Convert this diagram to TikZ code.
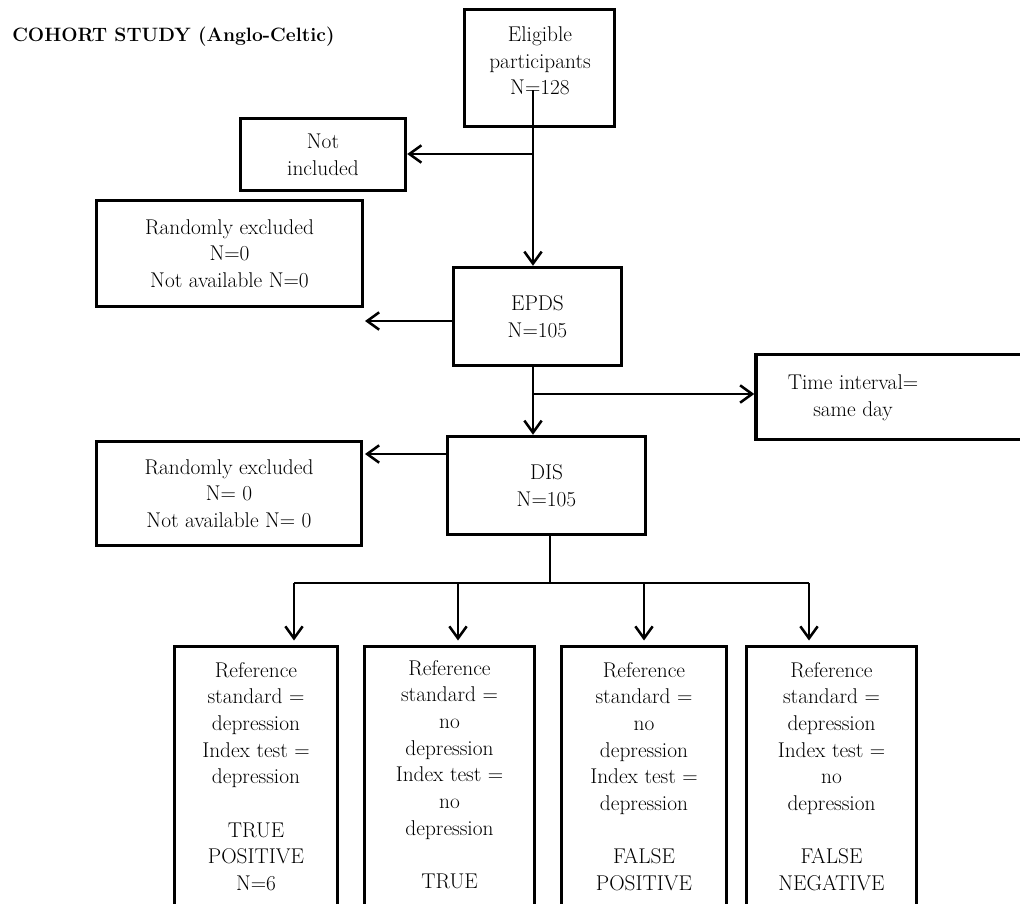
\documentclass[tikz,border=0pt]{standalone}
\usetikzlibrary{arrows.meta}
\newdimen\pxu
\pxu=0.75pt
\begin{document}
\begin{tikzpicture}[x=0.75pt,y=-0.75pt,
  body/.style={font=\fontsize{16pt}{20pt}\selectfont, align=center, inner sep=0pt},
  box/.style={draw, line width=2.6pt, inner sep=0pt, body},
  conn/.style={line width=1.4pt},
  arr/.style={conn, -{Straight Barb[length=9pt,width=13pt,line width=1.9pt]}},
  txt/.style={body}]
\useasboundingbox (0,0) rectangle (1020,903);
\fill[white] (0,0) rectangle (1020,903);
\clip (0,0) rectangle (1020,903);

% heading
\node[anchor=base west, inner sep=0pt, font=\fontsize{14.5pt}{18pt}\selectfont\bfseries]
  (title) at (12,41.5) {COHORT STUDY (Anglo-Celtic)};

% top of the flow
\node[box, minimum width=150\pxu, minimum height=117\pxu] (elig) at (539.5,68) {};
\node[txt] (eligtxt) at (540,61) {Eligible\\participants\\N=128};
\node[box, minimum width=165\pxu, minimum height=72\pxu] (notinc) at (323,154.5) {Not\\included};
\node[box, minimum width=266\pxu, minimum height=106\pxu] (rand1) at (229.5,253.5)
  {Randomly excluded\\N=0\\Not available N=0};
\node[box, minimum width=168\pxu, minimum height=98\pxu] (epds) at (537.5,316.5) {EPDS\\N=105};

% time interval box runs past the right edge
\node[box, minimum width=300\pxu, minimum height=85\pxu] (time) at (906,397) {};
\node[txt] (timetxt) at (853,397.5) {Time interval=\\same day};

\node[box, minimum width=198\pxu, minimum height=98\pxu] (dis) at (546.5,485.5) {DIS\\N=105};
\node[box, minimum width=265\pxu, minimum height=104\pxu] (rand2) at (229,493.5)
  {Randomly excluded\\N= 0\\Not available N= 0};

% outcome boxes, cut off at the bottom
\node[box, minimum width=163\pxu, minimum height=320\pxu, anchor=north] (b1) at (256,644.5) {};
\node[box, minimum width=170\pxu, minimum height=320\pxu, anchor=north] (b2) at (449.5,644.5) {};
\node[box, minimum width=165\pxu, minimum height=320\pxu, anchor=north] (b3) at (644,644.5) {};
\node[box, minimum width=170\pxu, minimum height=320\pxu, anchor=north] (b4) at (831.5,644.5) {};

\node[txt, anchor=north] (t1) at (256,662)
  {Reference\\standard =\\depression\\Index test =\\depression\\[20pt]TRUE\\POSITIVE\\N=6};
\node[txt, anchor=north] (t2) at (449.5,660)
  {Reference\\standard =\\no\\depression\\Index test =\\no\\depression\\[20pt]TRUE};
\node[txt, anchor=north] (t3) at (644,662)
  {Reference\\standard =\\no\\depression\\Index test =\\depression\\[20pt]FALSE\\POSITIVE};
\node[txt, anchor=north] (t4) at (831.5,662)
  {Reference\\standard =\\depression\\Index test =\\no\\depression\\[20pt]FALSE\\NEGATIVE};

% connectors
\coordinate (stem) at (533,90);
\coordinate (j1) at (533,154);
\draw[conn] (stem) -- (j1);
\draw[arr] (j1) -- (notinc.east |- j1);
\draw[arr] (j1) -- (j1 |- epds.north);

\coordinate (x1) at (365,321);
\draw[arr] (epds.west |- x1) -- (x1);

\coordinate (j2) at (533,394);
\draw[conn] (epds.south -| j2) -- (j2);
\draw[arr] (j2) -- (j2 |- dis.north);
\draw[arr] (j2) -- (time.west |- j2);

\coordinate (x2) at (365,454);
\draw[arr] (dis.west |- x2) -- (x2);

\coordinate (j3) at (550,583);
\coordinate (k1) at (294,583);
\coordinate (k2) at (458,583);
\coordinate (k3) at (644,583);
\coordinate (k4) at (809,583);
\draw[conn] (dis.south -| j3) -- (j3);
\draw[conn] (k1) -- (k4);
\draw[arr, shorten >=4\pxu] (k1) -- (k1 |- b1.north);
\draw[arr, shorten >=4\pxu] (k2) -- (k2 |- b2.north);
\draw[arr, shorten >=4\pxu] (k3) -- (k3 |- b3.north);
\draw[arr, shorten >=4\pxu] (k4) -- (k4 |- b4.north);
\end{tikzpicture}
\end{document}
